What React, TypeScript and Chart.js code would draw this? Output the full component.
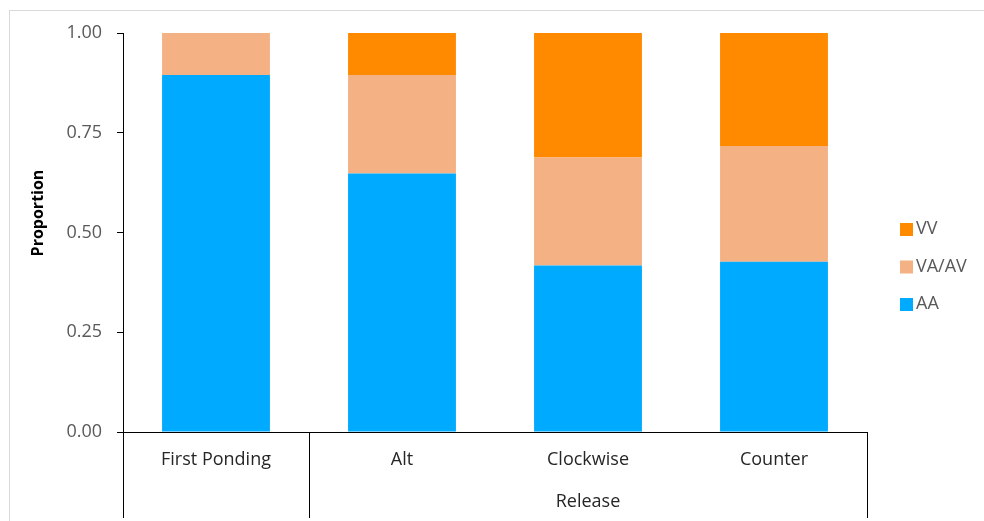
import React, { useEffect, useRef } from "react";
import { Chart, registerables } from "chart.js";

Chart.register(...registerables);

const categories = ["First Ponding", "Alt", "Clockwise", "Counter"];
const groupName = "Release";
const groupStart = 1; // index where the "Release" group begins
const aaValues = [0.895, 0.648, 0.417, 0.427];
const vaavValues = [0.105, 0.247, 0.271, 0.29];
const vvValues = [0, 0.105, 0.312, 0.283];
const yTickValues = [0, 0.25, 0.5, 0.75, 1];
const seriesNames = ["AA", "VA/AV", "VV"];
const seriesColors = ["#00AAFF", "#F4B183", "#FF8A00"];
const yTitle = "Proportion";

const FONT = "'Open Sans', Lato, sans-serif";

const decorPlugin = {
  id: "decor",
  beforeDraw(chart: any) {
    const ctx = chart.ctx;
    ctx.save();
    ctx.fillStyle = "#ffffff";
    ctx.fillRect(0, 0, chart.width, chart.height);
    ctx.strokeStyle = "#d9d9d9";
    ctx.lineWidth = 1;
    ctx.strokeRect(9.5, 10.5, chart.width + 20, chart.height + 20);
    ctx.restore();
  },
  afterDraw(chart: any) {
    const ctx = chart.ctx;
    const x = chart.scales.x;
    const y = chart.scales.y;
    const area = chart.chartArea;
    const bottom = y.getPixelForValue(0);
    const n = categories.length;
    const cw = (x.right - x.left) / n;
    ctx.save();
    // x axis line
    ctx.strokeStyle = "#000000";
    ctx.lineWidth = 1;
    ctx.beginPath();
    ctx.moveTo(area.left - 6, Math.round(bottom) + 0.5);
    ctx.lineTo(area.right, Math.round(bottom) + 0.5);
    ctx.stroke();
    // separators
    const seps = [0, groupStart, n];
    const yEnd = chart.height - 3;
    seps.forEach((i) => {
      const px = Math.round(x.left + i * cw) + 0.5;
      ctx.beginPath();
      ctx.moveTo(px, bottom);
      ctx.lineTo(px, yEnd);
      ctx.stroke();
    });
    // category labels
    ctx.fillStyle = "#262626";
    ctx.font = `18px ${FONT}`;
    ctx.textAlign = "center";
    ctx.textBaseline = "middle";
    categories.forEach((c, i) => {
      ctx.fillText(c, x.getPixelForValue(i), bottom + 28);
    });
    // group label
    const gx = (x.left + groupStart * cw + x.right) / 2;
    ctx.fillText(groupName, gx, bottom + 70);
    // y title
    ctx.save();
    ctx.translate(38, 213);
    ctx.rotate(-Math.PI / 2);
    ctx.font = `bold 16px ${FONT}`;
    ctx.fillStyle = "#000000";
    ctx.fillText(yTitle, 0, 0);
    ctx.restore();
    // legend (reverse order)
    const legendX = 900;
    const legendY0 = 229;
    const step = 37.5;
    ctx.font = `18px ${FONT}`;
    ctx.textAlign = "left";
    for (let k = 0; k < seriesNames.length; k++) {
      const idx = seriesNames.length - 1 - k;
      const cy = legendY0 + k * step;
      ctx.fillStyle = seriesColors[idx];
      ctx.fillRect(legendX, cy - 6, 13, 13);
      ctx.fillStyle = "#595959";
      ctx.fillText(seriesNames[idx], legendX + 16, cy);
    }
    ctx.restore();
  },
};

export default function App() {
  const ref = useRef<HTMLCanvasElement | null>(null);
  useEffect(() => {
    if (!ref.current) return;
    const seriesValues = [aaValues, vaavValues, vvValues];
    const chart = new Chart(ref.current, {
      type: "bar",
      data: {
        labels: categories,
        datasets: seriesNames.map((name, i) => ({
          label: name,
          data: seriesValues[i],
          backgroundColor: seriesColors[i],
          borderWidth: 0,
          barPercentage: 0.58,
          categoryPercentage: 1,
        })),
      },
      options: {
        responsive: false,
        animation: false,
        layout: { padding: { top: 33, bottom: 89, right: 117, left: 0 } },
        plugins: {
          legend: { display: false },
          tooltip: { enabled: false },
          title: { display: false },
        },
        scales: {
          x: {
            stacked: true,
            display: false,
          },
          y: {
            stacked: true,
            min: 0,
            max: 1,
            afterBuildTicks: (s: any) => {
              s.ticks = yTickValues.map((v) => ({ value: v }));
            },
            afterFit: (s: any) => {
              s.width = 123;
            },
            ticks: {
              callback: (v: any) => Number(v).toFixed(2),
              color: "#595959",
              font: { family: FONT, size: 18 },
              padding: 15,
            },
            grid: {
              display: true,
              drawOnChartArea: false,
              drawTicks: true,
              tickLength: 6,
              color: "#000000",
            },
            border: { display: true, color: "#000000", width: 1 },
          },
        },
      },
      plugins: [decorPlugin],
    });
    return () => chart.destroy();
  }, []);
  return (
    <div style={{ position: "fixed", left: 0, top: 0, width: 984, height: 521 }}>
      <canvas ref={ref} width={984} height={521} style={{ display: "block" }} />
    </div>
  );
}
